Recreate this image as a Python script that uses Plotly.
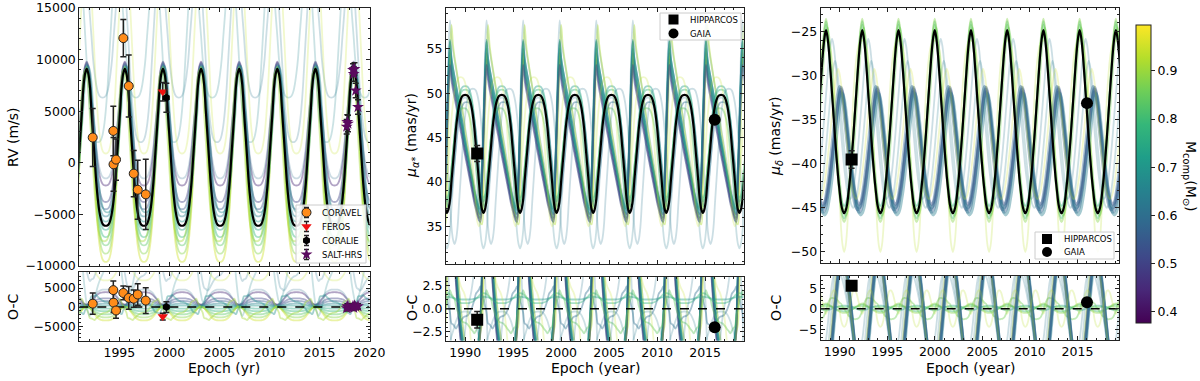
import numpy as np
import plotly.graph_objects as go
from plotly.colors import sample_colorscale

W, H = 1200, 381
FONT = "DejaVu Sans"
INK = "#222222"

# ---- orbit curves ---------------------------------------------------------
PERIOD = 3.81            # yr, spacing of the best-fit peaks
N_STEP = 24              # samples per cycle in the profiles below
M_MIN, M_MAX = 0.377, 0.995

# one-cycle profiles, normalised 0 (trough) .. 1 (peak), index 0 = peak
PEAKED = [1.0, 0.97, 0.89, 0.73, 0.58, 0.43, 0.28, 0.17, 0.09, 0.04, 0.012, 0.002,
          0.0, 0.002, 0.012, 0.04, 0.09, 0.17, 0.28, 0.43, 0.58, 0.73, 0.89, 0.97]
DIP = [1.0, 0.998, 0.988, 0.96, 0.91, 0.83, 0.72, 0.57, 0.42, 0.27, 0.11, 0.03,
       0.0, 0.03, 0.11, 0.27, 0.42, 0.57, 0.72, 0.83, 0.91, 0.96, 0.988, 0.998]
ROUND = [1.0, 0.96, 0.88, 0.77, 0.65, 0.53, 0.41, 0.30, 0.20, 0.12, 0.05, 0.015,
         0.0, 0.015, 0.05, 0.12, 0.20, 0.30, 0.41, 0.53, 0.65, 0.77, 0.88, 0.96]
SAW = [1.0, 0.90, 0.84, 0.79, 0.74, 0.69, 0.64, 0.58, 0.53, 0.47, 0.42, 0.37,
       0.32, 0.27, 0.22, 0.17, 0.12, 0.08, 0.04, 0.01, 0.0, 0.22, 0.52, 0.82]
DOUBLE = [1.0, 0.98, 0.92, 0.80, 0.68, 0.57, 0.45, 0.37, 0.31, 0.27, 0.25, 0.242,
          0.24, 0.242, 0.25, 0.27, 0.31, 0.37, 0.45, 0.57, 0.68, 0.80, 0.92, 0.98] + PEAKED
SHAPES = {"peaked": PEAKED, "dip": DIP, "round": ROUND, "saw": SAW, "double": DOUBLE}

# RV panel
RV_PEAK = 1991.74
RV_BEST = (9100, -6100)
RV_MASS = [0.44, 0.50, 0.55, 0.60, 0.65, 0.70, 0.74, 0.78, 0.83, 0.88, 0.95, 0.68, 0.91, 0.62, 0.66, 0.94]
RV_HIGH = [9800, 9700, 9500, 9600, 9400, 9300, 9200, 9100, 9000, 9100, 9300, 9400, 9000, 20000, 20000, 22000]
RV_LOW = [-2200, -3800, -4500, -1500, -5200, -5700, -6500, -7200, -8000, -8800, -9600, -4800, -7600, 2000, 2000, 900]
RV_SHAPE = ["peaked"] * 13 + ["double", "double", "peaked"]
RV_SHIFT = [0, 0, 0, 0, 0, 0, 0, 0, 0, 0, 0, 1, -1, -2, 19, 0]

# mu_alpha panel
MA_PEAK = 1990.0
MA_BEST = (49.8, 36.5)
MA_MASS = [0.66, 0.70, 0.62, 0.55, 0.48, 0.74, 0.92, 0.68, 0.52, 0.72, 0.78, 0.60, 0.84, 0.64, 0.62, 0.94]
MA_HIGH = [55.8, 55.0, 58.2, 54.5, 53.8, 54.2, 57.7, 56.0, 53.2, 50.8, 50.4, 49.0, 48.3, 49.5, 50.5, 51.8]
MA_LOW = [36.8, 36.0, 37.2, 36.3, 35.8, 37.0, 35.2, 36.5, 35.5, 37.8, 38.2, 37.2, 36.9, 32.5, 33.0, 35.0]
MA_SHAPE = ["saw"] * 9 + ["dip"] * 7
MA_SHIFT = [-10, -10, -10, -10, -10, -10, -9, -10, -10, 0, 0, 1, -1, 0, 5, -3]

# mu_delta panel
MD_PEAK = 1988.56
MD_BEST = (-24.8, -45.6)
MD_MASS = [0.80, 0.84, 0.88, 0.76, 0.86, 0.56, 0.60, 0.52, 0.64, 0.58, 0.62, 0.64, 0.95, 0.93]
MD_HIGH = [-23.8, -24.2, -23.5, -25.2, -24.5, -31.3, -31.8, -31.5, -32.0, -31.2, -25.8, -28.3, -29.2, -26.0]
MD_LOW = [-46.2, -45.2, -46.6, -44.8, -45.9, -45.5, -45.0, -44.6, -45.8, -45.2, -44.0, -45.0, -44.0, -50.0]
MD_SHAPE = ["round"] * 13 + ["dip"]
MD_SHIFT = [0, 0, 0, 0, 1, 10, 10, 10, 11, 9, 4, 6, 8, 0]

# ---- measurements ------------------------------------------------------------
CORAVEL_T = [1992.34, 1994.40, 1994.42, 1994.67, 1995.40, 1995.94, 1996.44, 1996.84, 1997.64]
CORAVEL_RV = [2450, 3090, -150, 310, 12080, 7440, -1050, -2610, -3060]
CORAVEL_ERR = [2800, 2400, 2600, 2000, 1800, 3000, 2250, 2850, 3400]
CORAVEL_OC = [900, 4450, 1150, -900, 3700, 2400, 2200, 3300, 1700]
FEROS_T, FEROS_RV, FEROS_ERR, FEROS_OC = [1999.34], [6890], [900], [-2500]
CORALIE_T, CORALIE_RV, CORALIE_ERR, CORALIE_OC = [1999.70], [6300], [1400], [0]
SALT_T = [2017.72, 2017.78, 2017.85, 2018.35, 2018.42, 2018.50, 2018.62, 2018.85]
SALT_RV = [3500, 3950, 3800, 9000, 8600, 9100, 7000, 5400]
SALT_ERR = [700, 700, 800, 600, 700, 600, 700, 700]
SALT_OC = [-300, 200, 0, 300, -200, 400, 100, 200]

HIP_T, GAIA_T = [1991.25], [2016.0]
MA_HIP, MA_HIP_ERR, MA_HIP_OC = [43.2], [0.9], [-1.2]
MA_GAIA, MA_GAIA_OC = [47.0], [-2.0]
MD_HIP, MD_HIP_ERR, MD_HIP_OC = [-39.5], [1.0], [5.6]
MD_GAIA, MD_GAIA_OC = [-33.1], [1.6]

RV_LEGEND = ["CORAVEL", "FEROS", "CORALIE", "SALT-HRS"]
PM_LEGEND = ["HIPPARCOS", "GAIA"]
CBAR_TICKS = [0.4, 0.5, 0.6, 0.7, 0.8, 0.9]


def grid(t_peak, lo, hi):
    dt = PERIOD / N_STEP
    j = np.arange(int(np.floor((lo - t_peak) / dt)) - 2, int(np.ceil((hi - t_peak) / dt)) + 3)
    return j, t_peak + j * dt


def curve(j, shape, shift, high, low):
    prof = np.array(SHAPES[shape])
    return low + (high - low) * prof[(j - shift) % len(prof)]


def mcolor(m, alpha):
    r, g, b = sample_colorscale("Viridis", [(m - M_MIN) / (M_MAX - M_MIN)])[0][4:-1].split(",")
    return f"rgba({r.strip()},{g.strip()},{b.strip()},{alpha})"


# page pixel -> paper fraction
def px(x):
    return x / W


def py(y):
    return 1 - y / H


fig = go.Figure()


def add_panel(xa, ya, xb, yb, t_peak, xr, best_shape, best, masses, highs, lows, shapes, shifts,
              wide=(), pale=(), strong=()):
    j, t = grid(t_peak, *xr)
    y_best = curve(j, best_shape, 0, *best)
    for i, m in enumerate(masses):
        y = curve(j, shapes[i], shifts[i], highs[i], lows[i])
        a = 0.24 if i in pale else (0.55 if i in strong else 0.42)
        w = 3.0 if i in wide else 1.8
        ln = dict(color=mcolor(m, a), width=w, shape="spline", smoothing=1.0)
        fig.add_trace(go.Scatter(x=t, y=y, mode="lines", line=ln, xaxis=xa, yaxis=ya,
                                 showlegend=False, hoverinfo="skip"))
        fig.add_trace(go.Scatter(x=t, y=y - y_best, mode="lines", line=ln, xaxis=xb, yaxis=yb,
                                 showlegend=False, hoverinfo="skip"))
    fig.add_trace(go.Scatter(x=t, y=y_best, mode="lines",
                             line=dict(color="black", width=2.2, shape="spline", smoothing=1.0),
                             xaxis=xa, yaxis=ya, showlegend=False, hoverinfo="skip"))
    fig.add_trace(go.Scatter(x=list(xr), y=[0, 0], mode="lines",
                             line=dict(color="black", width=1.6, dash="dash"),
                             xaxis=xb, yaxis=yb, showlegend=False, hoverinfo="skip"))


add_panel("x", "y", "x2", "y2", RV_PEAK, (1991.0, 2020.0), "peaked", RV_BEST,
          RV_MASS, RV_HIGH, RV_LOW, RV_SHAPE, RV_SHIFT, pale=(3, 13, 14, 15))
add_panel("x3", "y3", "x4", "y4", MA_PEAK, (1988.0, 2019.0), "dip", MA_BEST,
          MA_MASS, MA_HIGH, MA_LOW, MA_SHAPE, MA_SHIFT, pale=(2, 13, 14, 15),
          strong=(0, 1, 3, 4, 5, 7, 8))
add_panel("x5", "y5", "x6", "y6", MD_PEAK, (1988.0, 2019.4), "round", MD_BEST,
          MD_MASS, MD_HIGH, MD_LOW, MD_SHAPE, MD_SHIFT,
          wide=(5, 6, 7, 8, 9), pale=(10, 11, 12, 13))


def points(x, y, err, marker, xa, ya):
    fig.add_trace(go.Scatter(
        x=x, y=y, mode="markers", marker=marker, xaxis=xa, yaxis=ya, showlegend=False,
        error_y=dict(type="data", array=err if err is not None else [0] * len(x),
                     visible=err is not None, color=INK, thickness=1.5, width=3),
        hoverinfo="skip"))


mk_cor = dict(symbol="circle", size=9, color="#ff8c1a", line=dict(color=INK, width=1))
mk_fer = dict(symbol="triangle-down", size=9, color="#ee1111", line=dict(width=0))
mk_cle = dict(symbol="hexagon", size=8, color="black", line=dict(width=0))
mk_salt = dict(symbol="star", size=9, color="#5a0a5e", line=dict(width=0))
for xa, ya, yc, yf, ye, ys in (("x", "y", CORAVEL_RV, FEROS_RV, CORALIE_RV, SALT_RV),
                               ("x2", "y2", CORAVEL_OC, FEROS_OC, CORALIE_OC, SALT_OC)):
    points(CORAVEL_T, yc, CORAVEL_ERR, mk_cor, xa, ya)
    points(FEROS_T, yf, FEROS_ERR, mk_fer, xa, ya)
    points(CORALIE_T, ye, CORALIE_ERR, mk_cle, xa, ya)
    points(SALT_T, ys, SALT_ERR, mk_salt, xa, ya)

mk_hip = dict(symbol="square", size=12, color="black")
mk_gaia = dict(symbol="circle", size=12, color="black")
for xa, ya, yh, yg, err in (("x3", "y3", MA_HIP, MA_GAIA, MA_HIP_ERR),
                            ("x4", "y4", MA_HIP_OC, MA_GAIA_OC, MA_HIP_ERR),
                            ("x5", "y5", MD_HIP, MD_GAIA, MD_HIP_ERR),
                            ("x6", "y6", MD_HIP_OC, MD_GAIA_OC, MD_HIP_ERR)):
    points(HIP_T, yh, err, mk_hip, xa, ya)
    points(GAIA_T, yg, None, mk_gaia, xa, ya)

# ---- hand-made legends (matplotlib-style compact boxes) on a pixel overlay axis
LEG_BOXES = [  # left, top, right, bottom, first row y, row step, marker x, text x
    (296, 205, 366, 263, 212.5, 14.0, 306.5, 320),
    (660, 13, 741, 40, 19.5, 14.0, 673.5, 688),
    (1035, 232, 1114, 259, 239.0, 13.0, 1047, 1062),
]
LEG_MARKS = [
    [(mk_cor, True), (mk_fer, True), (mk_cle, True), (mk_salt, True)],
    [(dict(mk_hip, size=10), False), (dict(mk_gaia, size=10), False)],
    [(dict(mk_hip, size=10), False), (dict(mk_gaia, size=10), False)],
]
LEG_TEXT = [RV_LEGEND, PM_LEGEND, PM_LEGEND]
for (l, tp, r, b, y0, dy, mx, tx), marks, texts in zip(LEG_BOXES, LEG_MARKS, LEG_TEXT):
    fig.add_trace(go.Scatter(x=[l, r, r, l, l], y=[tp, tp, b, b, tp], mode="lines", fill="toself",
                             fillcolor="rgba(255,255,255,0.85)", line=dict(color="#cccccc", width=1),
                             xaxis="x7", yaxis="y7", showlegend=False, hoverinfo="skip"))
    for k, ((mk, eb), txt) in enumerate(zip(marks, texts)):
        yy = y0 + k * dy
        fig.add_trace(go.Scatter(
            x=[mx], y=[yy], mode="markers", marker=mk, xaxis="x7", yaxis="y7", showlegend=False,
            error_y=dict(type="data", array=[5], visible=eb, color=INK, thickness=1.3, width=2.5),
            hoverinfo="skip"))
        fig.add_annotation(text=txt, x=px(tx), y=py(yy), xref="paper", yref="paper",
                           showarrow=False, xanchor="left", yanchor="middle",
                           font=dict(size=8.5, family=FONT, color="black"))

# colour bar carrier (title is drawn as an annotation, reading downwards)
fig.add_trace(go.Scatter(
    x=[None], y=[None], mode="markers", showlegend=False, hoverinfo="skip",
    marker=dict(color=[M_MIN], cmin=M_MIN, cmax=M_MAX, colorscale="Viridis", showscale=True,
                colorbar=dict(x=px(1136), xanchor="left", xpad=0, y=py(25), yanchor="top", ypad=0,
                              len=(323 - 25) / H, lenmode="fraction", thickness=15,
                              outlinewidth=1, outlinecolor=INK, ticks="outside", ticklen=4,
                              tickcolor=INK, tickvals=CBAR_TICKS,
                              tickfont=dict(size=12.5, family=FONT, color="black"))),
    xaxis="x", yaxis="y"))


def xdom(a, b):
    return [px(a), px(b)]


def ydom(top, bot):
    return [py(bot), py(top)]


def axis(dom, rng, dtick, minor, labels=True, anchor=None, fmt=None):
    d = dict(domain=dom, range=rng, dtick=dtick, tick0=0, showline=True, linecolor=INK,
             linewidth=1, mirror="allticks", ticks="inside", ticklen=4, tickcolor=INK,
             minor=dict(ticks="inside", ticklen=2, dtick=minor, tick0=0, tickcolor=INK),
             showgrid=False, zeroline=False, showticklabels=labels, automargin=False,
             tickfont=dict(size=12.5, family=FONT, color="black"), anchor=anchor)
    if fmt:
        d["tickformat"] = fmt
    return d


X1, X2, X3 = xdom(79.3, 369.5), xdom(446, 743.5), xdom(820.7, 1119.3)
fig.update_layout(
    width=W, height=H, margin=dict(l=0, r=0, t=0, b=0, autoexpand=False),
    paper_bgcolor="white", plot_bgcolor="rgba(0,0,0,0)",
    font=dict(family=FONT, color="black"), showlegend=False,
    xaxis=axis(X1, [1991.0, 2020.0], 5, 1, False, "y"),
    yaxis=axis(ydom(8, 266), [-10000, 15000], 5000, 1000, anchor="x", fmt="d"),
    xaxis2=axis(X1, [1991.0, 2020.0], 5, 1, True, "y2"),
    yaxis2=axis(ydom(272, 341), [-8900, 9200], 5000, 1000, anchor="x2", fmt="d"),
    xaxis3=axis(X2, [1988.0, 2019.0], 5, 1, False, "y3"),
    yaxis3=axis(ydom(8, 263.5), [30.8, 59.6], 5, 1, anchor="x3"),
    xaxis4=axis(X2, [1988.0, 2019.0], 5, 1, True, "y4"),
    yaxis4=axis(ydom(276.5, 340.5), [-3.45, 3.5], 2.5, 0.5, anchor="x4", fmt=".1f"),
    xaxis5=axis(X3, [1988.0, 2019.4], 5, 1, False, "y5"),
    yaxis5=axis(ydom(8, 263), [-51.25, -22.3], 5, 1, anchor="x5"),
    xaxis6=axis(X3, [1988.0, 2019.4], 5, 1, True, "y6"),
    yaxis6=axis(ydom(276, 340), [-7.6, 8.0], 5, 1, anchor="x6"),
    # pixel overlay in page coordinates, used for the legend boxes
    xaxis7=dict(domain=[0, 1], range=[0, W], visible=False, fixedrange=True, anchor="y7"),
    yaxis7=dict(domain=[0, 1], range=[H, 0], visible=False, fixedrange=True, anchor="x7"),
)

TITLES = [
    ("RV (m/s)", 13, 137, -90), ("O-C", 13, 307, -90), ("Epoch (yr)", 224, 368, 0),
    ("<i>μ</i><sub><i>α*</i></sub> (mas/yr)", 412, 136, -90), ("O-C", 412, 308, -90),
    ("Epoch (year)", 595, 368, 0),
    ("<i>μ<sub>δ</sub></i> (mas/yr)", 776, 136, -90), ("O-C", 776, 308, -90),
    ("Epoch (year)", 970, 368, 0),
    ("M<sub>comp</sub>(M<sub>⊙</sub>)", 1190, 176, 90),
]
for text, x, y, ang in TITLES:
    fig.add_annotation(text=text, x=px(x), y=py(y), xref="paper", yref="paper",
                       showarrow=False, textangle=ang, xanchor="center", yanchor="middle",
                       font=dict(size=14, family=FONT, color="black"))

# drop the page's default 8px body margin so the figure sits at the top-left corner
fig.write_html("out.html", config={"displayModeBar": False},
               post_script="document.body.style.margin='0';")
